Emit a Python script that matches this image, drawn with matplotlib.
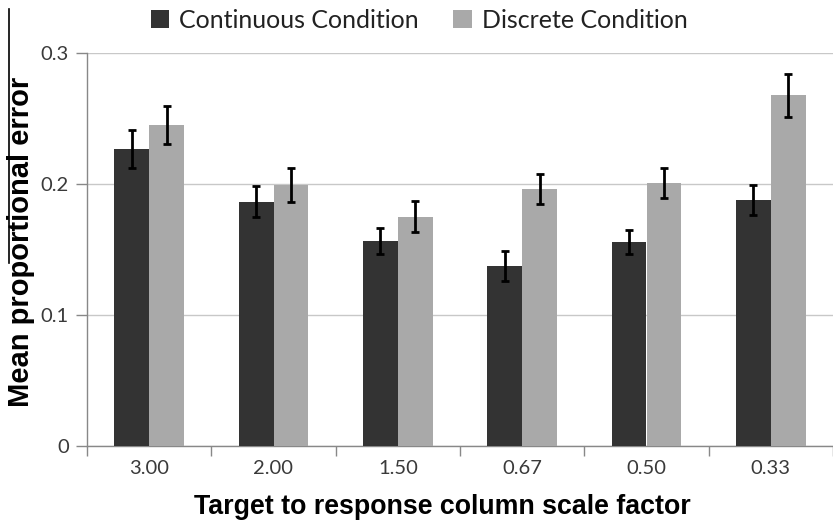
import matplotlib
matplotlib.use("Agg")
import matplotlib.pyplot as plt
from matplotlib.patches import Patch
from matplotlib.lines import Line2D
import numpy as np

categories = ["3.00", "2.00", "1.50", "0.67", "0.50", "0.33"]
continuous = [0.227, 0.1865, 0.1565, 0.1374, 0.1557, 0.188]
continuous_err = [0.0145, 0.012, 0.010, 0.0115, 0.009, 0.0116]
discrete = [0.2454, 0.1993, 0.175, 0.1962, 0.2008, 0.2676]
discrete_err = [0.0145, 0.013, 0.012, 0.0112, 0.0117, 0.0166]
series_names = ["Continuous Condition", "Discrete Condition"]
ytick_values = [0, 0.1, 0.2, 0.3]
ytick_labels = ["0", "0.1", "0.2", "0.3"]

W, H = 833, 521
fig = plt.figure(figsize=(W / 100, H / 100), dpi=100)
left_px, right_px, bottom_px, top_px = 87, 833, 446, 53
aw, ah = right_px - left_px, bottom_px - top_px
ax = fig.add_axes([left_px / W, 1 - bottom_px / H, aw / W, ah / H])

tick_font = "Lato"
tick_color = "#3a3a3a"
c_dark = "#333333"
c_light = "#a9a9a9"

x = np.arange(len(categories))
bw = 0.281
err_kw = dict(ecolor="black", elinewidth=2.0, capsize=3.0, capthick=2.0)
ax.bar(x - bw / 2, continuous, bw, yerr=continuous_err, color=c_dark, error_kw=err_kw, zorder=3)
ax.bar(x + bw / 2, discrete, bw, yerr=discrete_err, color=c_light, error_kw=err_kw, zorder=3)

spacing = 125.5
ax.set_xlim(-0.5, -0.5 + aw / spacing)
ax.set_ylim(0, 0.3)

ax.set_yticks(ytick_values)
ax.set_yticklabels(ytick_labels)
ax.yaxis.grid(True, color="#c8c8c8", linewidth=1.0, zorder=0)
ax.set_axisbelow(True)

ax.set_xticks(np.arange(len(categories) + 1) - 0.5)
ax.set_xticklabels([])
ax.set_xticks(x, minor=True)
ax.set_xticklabels(categories, minor=True)
ax.tick_params(axis="x", which="major", length=7, color="#888888", width=1.0, direction="out")
ax.tick_params(axis="x", which="minor", length=0, pad=10, labelsize=14.5, labelcolor=tick_color)
ax.tick_params(axis="y", length=8, color="#888888", width=1.0, direction="out", pad=5, labelsize=14.5, labelcolor=tick_color)
for lab in ax.get_xticklabels(minor=True) + ax.get_yticklabels():
    lab.set_fontfamily(tick_font)

for s in ["top", "right"]:
    ax.spines[s].set_visible(False)
for s in ["left", "bottom"]:
    ax.spines[s].set_color("#888888")
    ax.spines[s].set_linewidth(1.0)

ax.set_xlabel("Target to response column scale factor", va="baseline",
              family="Liberation Sans", weight="bold", size=19.3, color="black")
ax.xaxis.set_label_coords((442.5 - left_px) / aw, (bottom_px - 514) / ah)
ax.set_ylabel("Mean proportional error", va="center", ha="center",
              family="Liberation Sans", weight="bold", size=21, color="black")
ax.yaxis.set_label_coords((21 - left_px) / aw, (bottom_px - 242) / ah)

handles = [Patch(facecolor=c_dark), Patch(facecolor=c_light)]
fig.legend(handles, series_names, loc="center", bbox_to_anchor=(419 / W, 1 - 20 / H), ncol=2,
           frameon=False, handlelength=0.75, handleheight=0.75, handletextpad=0.4, columnspacing=1.35,
           prop=dict(family=tick_font, size=18))
for t in fig.legends[0].get_texts():
    t.set_color("#222222")

fig.add_artist(Line2D([8.5 / W, 8.5 / W], [1 - 9 / H, 1 - 263 / H], color="black", linewidth=1.2))

fig.savefig("out.png", dpi=100)
